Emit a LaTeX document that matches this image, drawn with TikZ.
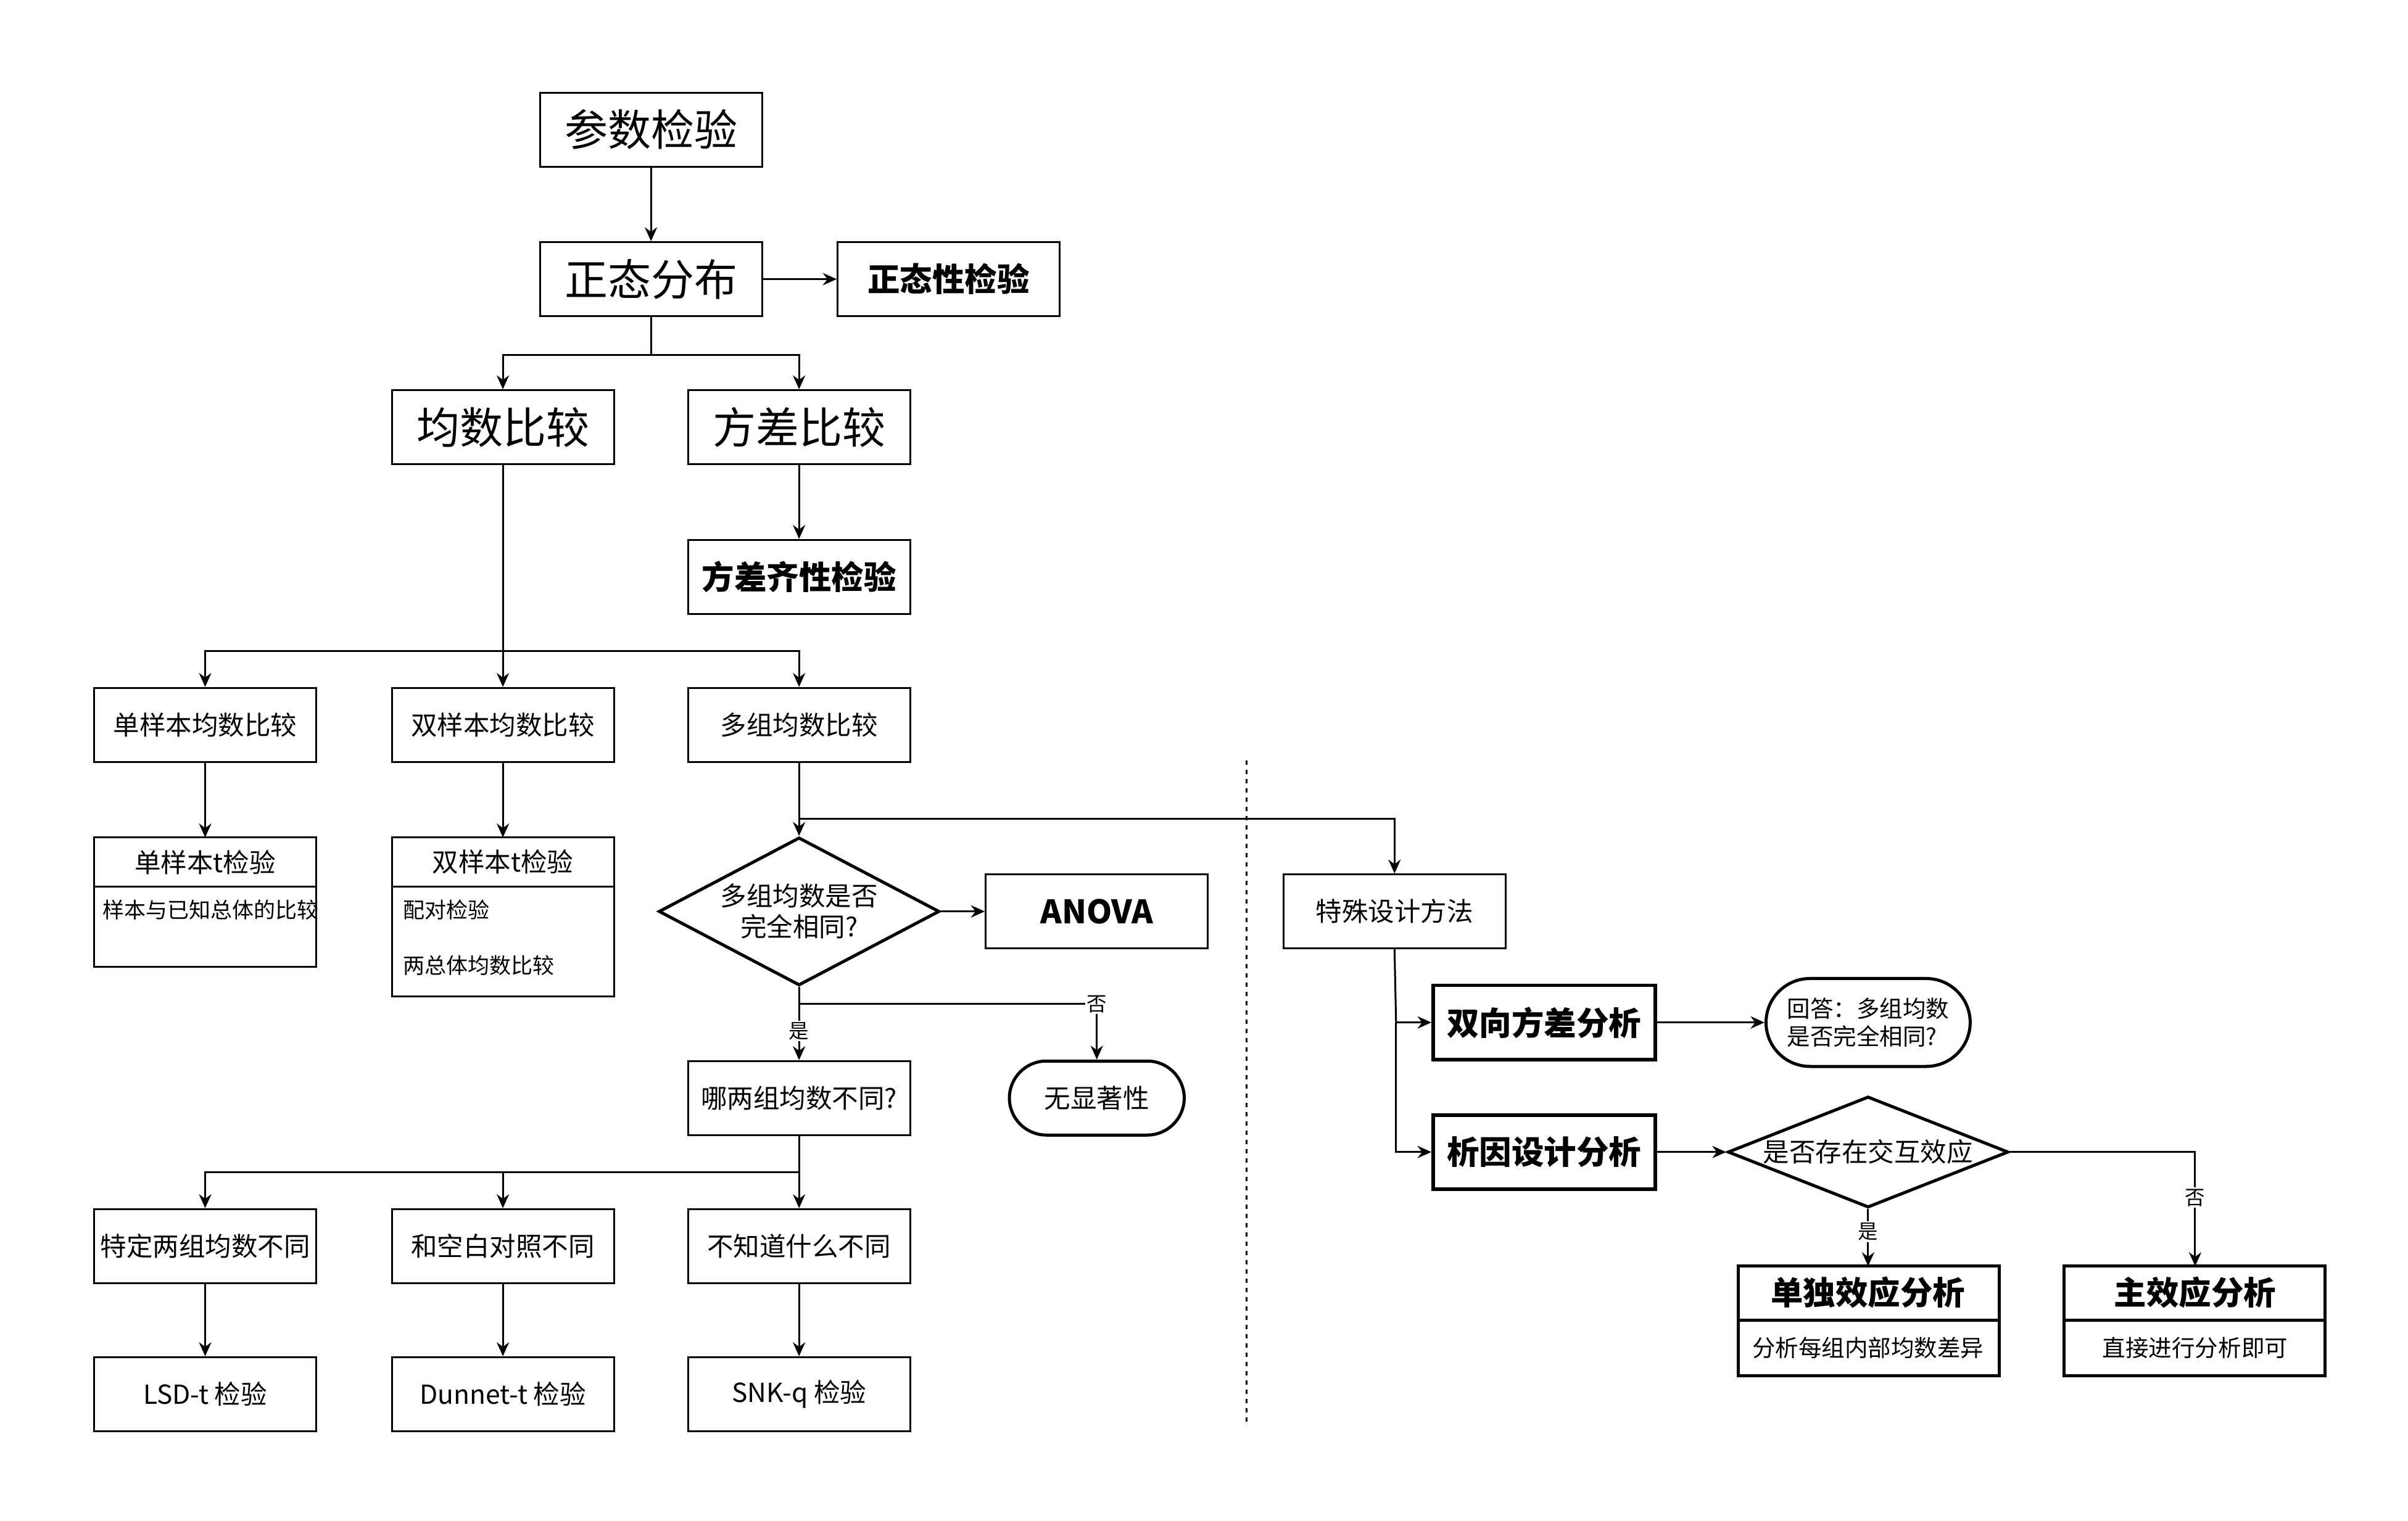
\documentclass[tikz,border=0pt]{standalone}
\usepackage{fontspec}
\setmainfont{Noto Sans CJK SC}
\usetikzlibrary{shapes.geometric,shapes.misc,arrows.meta}
\begin{document}
\begin{tikzpicture}[x=1pt,y=-1pt,
 every node/.style={font=\fontsize{17}{20}\selectfont},
 bx/.style={draw,line width=1.2pt,minimum width=144pt,minimum height=48pt,inner sep=2pt},
 big/.style={bx,font=\fontsize{28}{32}\selectfont},
 bb/.style={bx,font=\fontsize{21}{24}\selectfont\bfseries},
 tb/.style={bb,line width=2.2pt},
 dia/.style={draw,diamond,aspect=1.9,line width=2pt,inner sep=0pt,align=center},
 pill/.style={draw,rounded rectangle,line width=2pt},
 ar/.style={line width=1.2pt,-{Stealth[length=9pt,width=8pt]}},
 ln/.style={line width=1.2pt},
 lb/.style={fill=white,inner sep=1pt,font=\fontsize{13}{15}\selectfont}]
\path[use as bounding box] (0,0) rectangle (1561,986);
\node[big] (a) at (422,84) {参数检验};
\node[big] (b) at (422,181) {正态分布};
\node[bb] (c) at (615,181) {正态性检验};
\node[big] (d) at (326,277) {均数比较};
\node[big] (e) at (518,277) {方差比较};
\node[bb] (f) at (518,374) {方差齐性检验};
\node[bx] (g1) at (133,470) {单样本均数比较};
\node[bx] (g2) at (326,470) {双样本均数比较};
\node[bx] (g3) at (518,470) {多组均数比较};
% t-test boxes
\draw[ln] (61,543) rectangle (205,627); \draw[ln] (61,575)--(205,575);
\node (h1) at (133,559) {单样本t检验};
\node[align=left,font=\fontsize{14}{18}\selectfont,text width=136pt,anchor=north west] at (63,580) {样本与已知总体的比较};
\draw[ln] (254,543) rectangle (398,646); \draw[ln] (254,575)--(398,575);
\node (h2) at (326,559) {双样本t检验};
\node[font=\fontsize{14}{16}\selectfont,anchor=west] at (258,590) {配对检验};
\node[font=\fontsize{14}{16}\selectfont,anchor=west] at (258,626) {两总体均数比较};
\node[dia,minimum width=182pt,minimum height=96pt] (k) at (518,591) {多组均数是否\\完全相同?};
\node[bb] (an) at (711,591) {ANOVA};
\node[pill,minimum width=120pt,minimum height=48pt] (ns) at (711,712) {无显著性};
\node[bx] (w) at (518,712) {哪两组均数不同?};
\node[bx] (m1) at (133,808) {特定两组均数不同};
\node[bx] (m2) at (326,808) {和空白对照不同};
\node[bx] (m3) at (518,808) {不知道什么不同};
\node[bx] (t1) at (133,904) {LSD-t 检验};
\node[bx] (t2) at (326,904) {Dunnet-t 检验};
\node[bx] (t3) at (518,904) {SNK-q 检验};
\draw[ln,dashed] (808,493)--(808,925);
\node[bx] (s) at (904,591) {特殊设计方法};
\node[tb] (s1) at (1001,663) {双向方差分析};
\node[tb] (s2) at (1001,747) {析因设计分析};
\node[pill,minimum width=139pt,minimum height=57pt,align=left,font=\fontsize{15}{18}\selectfont] (q) at (1211,663) {回答：多组均数\\是否完全相同?};
\node[dia,minimum width=182pt,minimum height=72pt,aspect=2.5] (k2) at (1211,747) {是否存在交互效应};
\draw[line width=2pt] (1127,821) rectangle (1296,892); \draw[line width=2pt] (1127,856)--(1296,856);
\node[font=\fontsize{21}{24}\selectfont\bfseries] at (1211,838) {单独效应分析};
\node[font=\fontsize{15}{18}\selectfont] at (1211,874) {分析每组内部均数差异};
\draw[line width=2pt] (1338,821) rectangle (1507,892); \draw[line width=2pt] (1338,856)--(1507,856);
\node[font=\fontsize{21}{24}\selectfont\bfseries] at (1423,838) {主效应分析};
\node[font=\fontsize{15}{18}\selectfont] at (1423,874) {直接进行分析即可};
\coordinate (u1) at (1211,821); \coordinate (u2) at (1423,821);
\coordinate (c1) at (133,543); \coordinate (c2) at (326,543);
% connectors
\draw[ar] (a)--(b);
\draw[ar] (b)--(c);
\draw[ar] (b.south)--(422,230)-|(d.north);
\draw[ar] (422,230)-|(e.north);
\draw[ar] (e)--(f);
\draw[ar] (d.south)--(g2.north);
\draw[ar] (326,422)-|(g1.north);
\draw[ar] (326,422)-|(g3.north);
\draw[ar] (g1)--(c1);
\draw[ar] (g2)--(c2);
\draw[ar] (g3.south)--(k.north);
\draw[ar] (518,531)-|(s.north);
\draw[ar] (k)--(an);
\draw[ar] (k.south)--(w.north) node[lb,pos=0.6]{是};
\draw[ar] (518,651)-|(ns.north) node[lb,pos=0.5]{否};
\draw[ar] (w.south)--(m3.north);
\draw[ar] (518,760)-|(m1.north);
\draw[ar] (518,760)-|(m2.north);
\draw[ar] (m1)--(t1);
\draw[ar] (m2)--(t2);
\draw[ar] (m3)--(t3);
\draw[ar] (s.south)--(905,663)--(s1.west);
\draw[ar] (905,663)--(905,747)--(s2.west);
\draw[ar] (s1)--(q);
\draw[ar] (s2)--(k2);
\draw[ar] (k2.south)--(u1) node[lb,pos=0.4]{是};
\draw[ar] (k2.east)-|(u2) node[lb,pos=0.7]{否};
\end{tikzpicture}
\end{document}
